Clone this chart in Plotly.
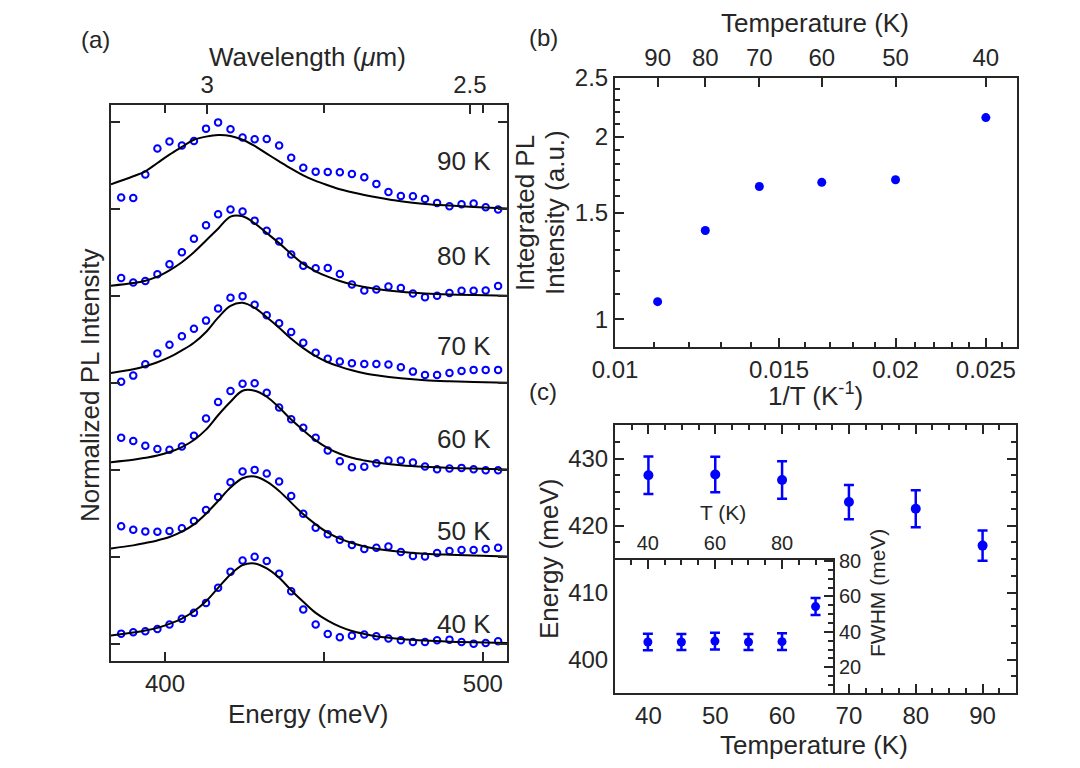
import plotly.graph_objects as go
import math

W, H = 1080, 768
def px(x):
    return x / W
def py(y):
    return 1 - y / H

FONT = "Liberation Sans, Arial, sans-serif"
LC = "#262626"
TC = "#262626"
BLUE = "#0000ff"

# ---------------- Panel (a): PL spectra ----------------
energy = [386.2, 390.0, 393.8, 397.6, 401.4, 405.3, 409.1, 412.9, 416.7, 420.6,
          424.4, 428.2, 432.0, 435.9, 439.7, 443.5, 447.4, 451.2, 455.0, 458.8,
          462.7, 466.5, 470.3, 474.2, 478.0, 481.8, 485.6, 489.5, 493.3, 497.1,
          500.9, 504.8]
pl_90K = [0.134, 0.130, 0.399, 0.698, 0.779, 0.733, 0.786, 0.928, 1.000, 0.920,
          0.825, 0.806, 0.809, 0.733, 0.594, 0.479, 0.433, 0.430, 0.426, 0.407,
          0.368, 0.292, 0.199, 0.153, 0.150, 0.119, 0.073, 0.035, 0.058, 0.065,
          0.023, -0.004]
pl_80K = [0.208, 0.158, 0.174, 0.251, 0.367, 0.506, 0.660, 0.815, 0.942, 0.996,
          0.973, 0.869, 0.753, 0.629, 0.479, 0.351, 0.320, 0.324, 0.255, 0.135,
          0.066, 0.077, 0.112, 0.093, 0.031, -0.012, 0.004, 0.035, 0.062, 0.062,
          0.066, 0.116]
pl_70K = [0.015, 0.085, 0.216, 0.340, 0.440, 0.537, 0.625, 0.718, 0.857, 0.981,
          1.000, 0.900, 0.780, 0.687, 0.587, 0.463, 0.347, 0.278, 0.247, 0.228,
          0.220, 0.220, 0.212, 0.181, 0.131, 0.093, 0.093, 0.116, 0.139, 0.151,
          0.151, 0.151]
pl_60K = [0.371, 0.332, 0.278, 0.239, 0.232, 0.270, 0.394, 0.591, 0.780, 0.907,
          0.992, 0.996, 0.888, 0.718, 0.583, 0.486, 0.371, 0.224, 0.100, 0.031,
          0.035, 0.077, 0.108, 0.108, 0.085, 0.039, 0.008, 0.015, 0.023, 0.008,
          -0.004, -0.004]
pl_50K = [0.350, 0.312, 0.292, 0.288, 0.296, 0.327, 0.412, 0.538, 0.688, 0.858,
          0.981, 1.000, 0.958, 0.865, 0.700, 0.496, 0.335, 0.258, 0.196, 0.135,
          0.088, 0.104, 0.119, 0.054, 0.008, 0.004, 0.042, 0.065, 0.077, 0.077,
          0.088, 0.104]
pl_40K = [0.115, 0.131, 0.142, 0.169, 0.219, 0.285, 0.354, 0.469, 0.642, 0.827,
          0.958, 1.000, 0.950, 0.804, 0.604, 0.392, 0.219, 0.112, 0.073, 0.092,
          0.104, 0.085, 0.058, 0.038, 0.019, 0.019, 0.038, 0.046, 0.019, 0.000,
          0.008, 0.027]

fit_energy = [383.0, 390.0, 393.8, 397.6, 401.4, 405.3, 409.1, 412.9, 416.7,
              420.6, 424.4, 428.2, 432.0, 435.9, 439.7, 443.5, 447.4, 451.2,
              455.0, 458.8, 462.7, 466.5, 474.2, 481.8, 489.5, 497.1, 507.6]
fit_90K = [0.288, 0.380, 0.437, 0.533, 0.629, 0.717, 0.800, 0.836, 0.855, 0.844,
           0.800, 0.729, 0.640, 0.552, 0.468, 0.391, 0.326, 0.276, 0.230, 0.196,
           0.165, 0.138, 0.092, 0.061, 0.042, 0.027, 0.008]
fit_80K = [0.120, 0.151, 0.178, 0.224, 0.297, 0.390, 0.506, 0.641, 0.776, 0.915,
           0.919, 0.838, 0.726, 0.610, 0.486, 0.371, 0.286, 0.224, 0.174, 0.135,
           0.104, 0.081, 0.050, 0.031, 0.019, 0.012, 0.004]
fit_70K = [0.116, 0.158, 0.193, 0.239, 0.297, 0.375, 0.463, 0.587, 0.753, 0.888,
           0.923, 0.865, 0.757, 0.637, 0.510, 0.402, 0.309, 0.239, 0.189, 0.147,
           0.112, 0.089, 0.054, 0.031, 0.019, 0.012, 0.004]
fit_60K = [0.089, 0.116, 0.139, 0.166, 0.205, 0.263, 0.344, 0.463, 0.629, 0.784,
           0.911, 0.911, 0.842, 0.718, 0.579, 0.456, 0.340, 0.251, 0.185, 0.139,
           0.108, 0.085, 0.054, 0.035, 0.023, 0.015, 0.004]
fit_50K = [0.096, 0.131, 0.158, 0.188, 0.227, 0.288, 0.373, 0.496, 0.642, 0.796,
           0.904, 0.923, 0.865, 0.758, 0.623, 0.488, 0.373, 0.277, 0.208, 0.158,
           0.119, 0.092, 0.058, 0.035, 0.023, 0.015, 0.004]
fit_40K = [0.092, 0.127, 0.150, 0.181, 0.227, 0.288, 0.373, 0.488, 0.642, 0.796,
           0.904, 0.923, 0.865, 0.758, 0.615, 0.481, 0.354, 0.265, 0.196, 0.146,
           0.112, 0.085, 0.054, 0.035, 0.023, 0.015, 0.008]

spec_labels = ["90 K", "80 K", "70 K", "60 K", "50 K", "40 K"]
spec_offsets = [5, 4, 3, 2, 1, 0]
label_dy = [0.55, 0.46, 0.43, 0.36, 0.30, 0.23]
spectra = [pl_90K, pl_80K, pl_70K, pl_60K, pl_50K, pl_40K]
fits = [fit_90K, fit_80K, fit_70K, fit_60K, fit_50K, fit_40K]

wavelength_ticks = [3, 2.5]          # micrometres
wavelength_labels = ["3", "2.5"]
HC = 1239.84                         # meV * um

# ---------------- Panel (b): integrated PL ----------------
T_b = [90, 80, 70, 60, 50, 40]
int_pl = [1.069, 1.401, 1.656, 1.682, 1.699, 2.151]
invT_ticks = [0.01, 0.015, 0.02, 0.025]
invT_labels = ["0.01", "0.015", "0.02", "0.025"]
invT_minor = [0.011, 0.012, 0.013, 0.014, 0.016, 0.017, 0.018, 0.019,
              0.021, 0.022, 0.023, 0.024, 0.026]
int_ticks = [1, 1.5, 2, 2.5]
int_labels = ["1", "1.5", "2", "2.5"]
int_minor = [0.9, 1.1, 1.2, 1.3, 1.4, 1.6, 1.7, 1.8, 1.9, 2.1, 2.2, 2.3, 2.4]

# ---------------- Panel (c): peak energy and FWHM ----------------
T_c = [40, 50, 60, 70, 80, 90]
peak_E = [427.5, 427.6, 426.8, 423.5, 422.5, 417.0]
peak_E_err = [2.8, 2.65, 2.8, 2.55, 2.75, 2.25]
fwhm = [34.3, 34.3, 34.8, 34.3, 34.5, 54.3]
fwhm_err = [4.7, 4.5, 4.7, 4.5, 4.7, 4.8]

fig = go.Figure()

for spec, fit, off in zip(spectra, fits, spec_offsets):
    # fit curves on the (identical-range) top axis so that axis is rendered
    fig.add_trace(go.Scatter(
        x=fit_energy, y=[v + off for v in fit], mode="lines",
        line=dict(color="black", width=2, shape="spline"),
        xaxis="x2", yaxis="y", showlegend=False, hoverinfo="skip"))
    fig.add_trace(go.Scatter(
        x=energy, y=[v + off for v in spec], mode="markers",
        marker=dict(symbol="circle-open", size=6.5, color=BLUE,
                    line=dict(width=2, color=BLUE)),
        xaxis="x", yaxis="y", showlegend=False))

invT = [1.0 / t for t in T_b]
fig.add_trace(go.Scatter(
    x=invT, y=int_pl, mode="markers",
    marker=dict(symbol="circle", size=9, color=BLUE),
    xaxis="x3", yaxis="y3", showlegend=False))
# same points on the top temperature axis (transparent) so that axis is rendered
fig.add_trace(go.Scatter(
    x=invT, y=int_pl, mode="markers",
    marker=dict(symbol="circle", size=9, color=BLUE, opacity=0),
    xaxis="x4", yaxis="y3", showlegend=False, hoverinfo="skip"))

fig.add_trace(go.Scatter(
    x=T_c, y=peak_E, mode="markers",
    marker=dict(symbol="circle", size=10, color=BLUE),
    error_y=dict(type="data", array=peak_E_err, color=BLUE, thickness=2.5, width=5),
    xaxis="x5", yaxis="y5", showlegend=False))

fig.add_trace(go.Scatter(
    x=T_c, y=fwhm, mode="markers",
    marker=dict(symbol="circle", size=9, color=BLUE),
    error_y=dict(type="data", array=fwhm_err, color=BLUE, thickness=2.5, width=5),
    xaxis="x6", yaxis="y6", showlegend=False))

base = dict(showline=True, linewidth=2, linecolor=LC, showgrid=False, zeroline=False,
            ticks="inside", tickwidth=2, tickcolor=LC, ticklen=9, automargin=False,
            tickfont=dict(size=24, color=TC, family=FONT))

def minor(**kw):
    d = dict(ticks="inside", tickwidth=2, tickcolor=LC, ticklen=5)
    d.update(kw)
    return d

xr_a = [383.0, 507.6]
fig.update_layout(
    xaxis=dict(base, domain=[px(111), px(507)], range=xr_a, anchor="y",
               tickmode="linear", tick0=0, dtick=100,
               minor=minor(dtick=50, tick0=0, ticklen=9)),
    xaxis2=dict(base, overlaying="x", side="top", range=xr_a, anchor="y",
                tickmode="array", tickvals=[HC / w for w in wavelength_ticks],
                ticktext=wavelength_labels,
                minor=minor(tickmode="array", tickvals=[400, 450, 500], ticklen=8)),
    yaxis=dict(base, domain=[py(661), py(105)], range=[-0.2, 6.2], anchor="x",
               tickmode="array", tickvals=[0, 1, 2, 3, 4, 5, 6],
               showticklabels=False, mirror="ticks"),
    xaxis3=dict(base, type="log", domain=[px(615), px(1017)],
                range=[math.log10(0.01), math.log10(0.027)], anchor="y3",
                tickmode="array", tickvals=invT_ticks, ticktext=invT_labels,
                minor=minor(tickmode="array", tickvals=invT_minor)),
    xaxis4=dict(base, type="log", overlaying="x3", side="top",
                range=[math.log10(0.01), math.log10(0.027)], anchor="y3",
                tickmode="array", tickvals=invT,
                ticktext=[str(t) for t in T_b]),
    yaxis3=dict(base, type="log", domain=[py(347), py(78)],
                range=[math.log10(0.9), math.log10(2.5)], anchor="x3",
                tickmode="array", tickvals=int_ticks, ticktext=int_labels,
                minor=minor(tickmode="array", tickvals=int_minor),
                mirror=True),
    xaxis5=dict(base, domain=[px(615), px(1016)], range=[35, 95], anchor="y5",
                tickmode="linear", tick0=0, dtick=10,
                minor=minor(dtick=2.5, tick0=0), mirror="ticks"),
    yaxis5=dict(base, domain=[py(693), py(425)], range=[395, 435], anchor="x5",
                tickmode="linear", tick0=0, dtick=10,
                minor=minor(dtick=2.5, tick0=0), mirror="ticks"),
    xaxis6=dict(base, domain=[px(615), px(833)], range=[30.2, 95.2], anchor="y6",
                side="top", tickmode="array", tickvals=[40, 60, 80],
                minor=minor(dtick=5, tick0=0), mirror=True,
                tickfont=dict(size=20, color=TC, family=FONT)),
    yaxis6=dict(base, domain=[py(693), py(560)], range=[5.5, 80.6], anchor="x6",
                side="right", tickmode="array", tickvals=[20, 40, 60, 80],
                minor=minor(dtick=5, tick0=0), mirror=True,
                tickfont=dict(size=20, color=TC, family=FONT)),
)

ann = []
def text(x, y, s, size=26, angle=0, xanchor="center", yanchor="middle"):
    ann.append(dict(x=px(x), y=py(y), xref="paper", yref="paper", text=s,
                    showarrow=False, textangle=angle, xanchor=xanchor,
                    yanchor=yanchor, font=dict(size=size, color=TC, family=FONT)))

# panel labels
text(95, 39, "(a)", size=24)
text(543, 37, "(b)", size=24)
text(543, 391, "(c)", size=24)
# panel (a) titles
text(307, 57, "Wavelength (<i>μ</i>m)")
text(308, 714, "Energy (meV)")
text(90, 385, "Normalized PL Intensity", angle=-90)
# panel (b) titles
text(815, 23, "Temperature (K)")
text(815, 394, "1/T (K<sup>-1</sup>)")
text(525, 213, "Integrated PL", angle=-90)
text(555, 213, "Intensity (a.u.)", angle=-90)
# panel (c) titles
text(549, 559, "Energy (meV)", angle=-90)
text(814, 745, "Temperature (K)")
text(723, 512, "T (K)", size=21)
text(877, 593, "FWHM (meV)", size=21, angle=-90)

for lab, off, dy in zip(spec_labels, spec_offsets, label_dy):
    ann.append(dict(x=503.2, y=off + dy, xref="x", yref="y", text=lab,
                    showarrow=False, xanchor="right", yanchor="middle",
                    font=dict(size=26, color=TC, family=FONT)))

fig.update_layout(
    template="none",
    annotations=ann,
    width=W, height=H, autosize=False,
    margin=dict(l=0, r=0, t=0, b=0, pad=0),
    paper_bgcolor="white", plot_bgcolor="white",
    font=dict(family=FONT, color=TC, size=24),
    showlegend=False,
)

fig.write_html("out.html")
